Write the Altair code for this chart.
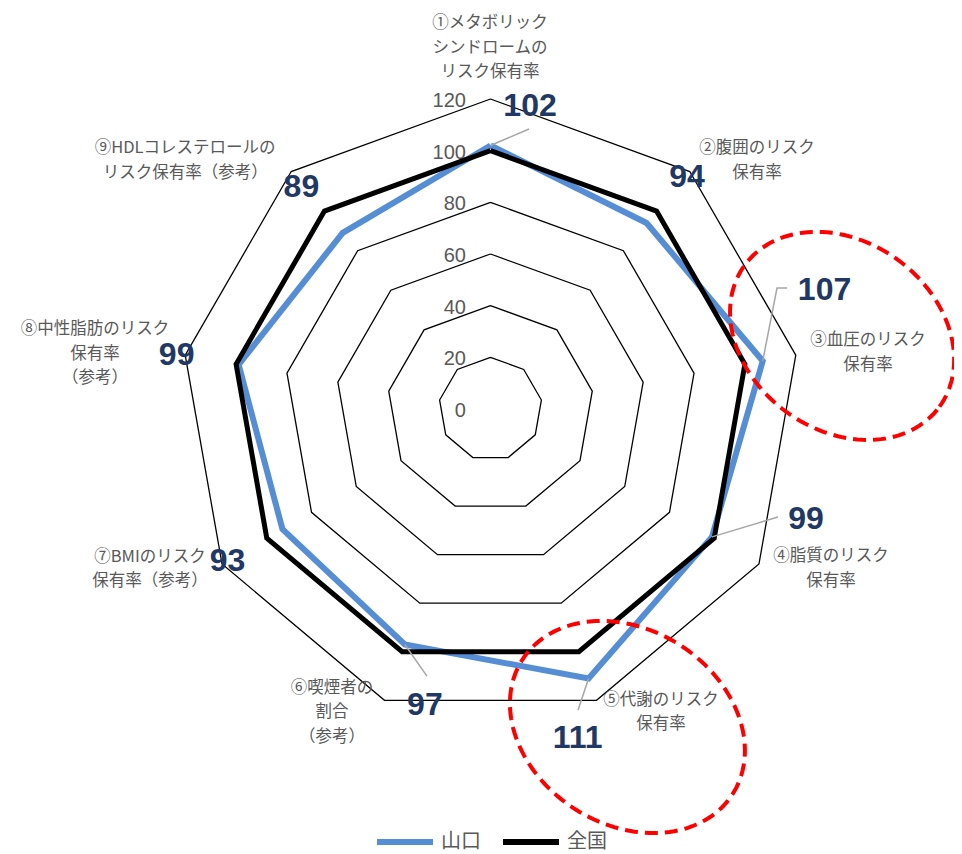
import altair as alt
import numpy as np
import pandas as pd

# ---------------- data ----------------
categories = [
    "①メタボリック\nシンドロームの\nリスク保有率",
    "②腹囲のリスク\n保有率",
    "③血圧のリスク\n保有率",
    "④脂質のリスク\n保有率",
    "⑤代謝のリスク\n保有率",
    "⑥喫煙者の\n割合\n（参考）",
    "⑦BMIのリスク\n保有率（参考）",
    "⑧中性脂肪のリスク\n保有率\n（参考）",
    "⑨HDLコレステロールの\nリスク保有率（参考）",
]
yamaguchi = [102, 94, 107, 99, 111, 97, 93, 99, 89]
national = [100, 100, 100, 100, 100, 100, 100, 100, 100]
series_names = ["山口", "全国"]
ring_values = [20, 40, 60, 80, 100, 120]
tick_values = [0, 20, 40, 60, 80, 100, 120]

# ---------------- layout (value units, centre = 0,0) ----------------
PX = 310 / 120.0          # pixels per value unit
LINE_H = 24.5             # category label line height (px)
cat_lx = [-0.2, 103.2, 146.1, 131.8, 66.0, -61.4, -131.8, -153.1, -118.2]
cat_ly = [139.9, 96.2, 21.9, -61.7, -117.3, -117.3, -61.9, 21.3, 96.2]
val_lx = [15.3, 76.1, 129.3, 122.1, 33.7, -25.4, -101.8, -121.5, -73.2]
val_ly = [117.3, 89.8, 46.1, -42.6, -127.5, -114.6, -59.0, 20.9, 86.1]
leader_idx = [0, 2, 3, 4, 5]
leader_pts = [
    [(14.9, 108.4)],
    [(110.9, 46.8), (114.8, 46.8)],
    [(111.3, -41.8)],
    [(33.9, -116.5)],
    [(-24.6, -103.4)],
]
tick_x = -9.5
ell_cx = [136.1, 53.0]
ell_cy = [28.3, -123.1]
ell_a = [46.6, 48.3]
ell_b = [36.5, 37.7]
ell_rot = [-36.0, -32.6]

N = len(categories)
ang = [2 * np.pi * i / N for i in range(N)]


def polar(v, i):
    return v * np.sin(ang[i]), v * np.cos(ang[i])


# grid rings
grid_rows = []
for r in ring_values:
    for k in range(N + 1):
        i = k % N
        x, y = polar(r, i)
        grid_rows.append({"ring": r, "ord": k, "x": x, "y": y})
grid_df = pd.DataFrame(grid_rows)


def series_df(name, vals):
    rows = []
    for k in range(N + 1):
        i = k % N
        x, y = polar(vals[i], i)
        rows.append({"series": name, "ord": k, "x": x, "y": y})
    return pd.DataFrame(rows)


yam_df = series_df(series_names[0], yamaguchi)
nat_df = series_df(series_names[1], national)

# labels (block centre -> first line centre)
n_lines = [c.count("\n") + 1 for c in categories]
cat_first_y = [cy + (n - 1) / 2 * LINE_H / PX for cy, n in zip(cat_ly, n_lines)]
cat_df = pd.DataFrame({"label": categories, "x": cat_lx, "y": cat_first_y})
val_df = pd.DataFrame({"label": [str(v) for v in yamaguchi], "x": val_lx, "y": val_ly})
tick_df = pd.DataFrame({"label": [str(t) for t in tick_values], "y": tick_values,
                        "x": [tick_x] * len(tick_values)})

# leader lines
lead_rows = []
for j, (ci, pts) in enumerate(zip(leader_idx, leader_pts)):
    x0, y0 = polar(yamaguchi[ci], ci)
    lead_rows.append({"id": j, "ord": 0, "x": x0, "y": y0})
    for m, (px, py) in enumerate(pts):
        lead_rows.append({"id": j, "ord": m + 1, "x": px, "y": py})
lead_df = pd.DataFrame(lead_rows)

# annotation ellipses
ell_rows = []
t = np.linspace(0, 2 * np.pi, 145)
for e in range(len(ell_cx)):
    phi = np.radians(ell_rot[e])
    ex = ell_cx[e] + ell_a[e] * np.cos(t) * np.cos(phi) - ell_b[e] * np.sin(t) * np.sin(phi)
    ey = ell_cy[e] + ell_a[e] * np.cos(t) * np.sin(phi) + ell_b[e] * np.sin(t) * np.cos(phi)
    for k in range(len(t)):
        ell_rows.append({"id": e, "ord": k, "x": ex[k], "y": ey[k]})
ell_df = pd.DataFrame(ell_rows)

# ---------------- scales ----------------
W, H = 946, 846
CX, CY = 482.5, 401.0
xs = alt.Scale(domain=[-CX / PX, (W - CX) / PX], nice=False, zero=False)
ys = alt.Scale(domain=[-(H - CY) / PX, CY / PX], nice=False, zero=False)
X = alt.X("x:Q", scale=xs, axis=None)
Y = alt.Y("y:Q", scale=ys, axis=None)
color_scale = alt.Scale(domain=series_names, range=["#558ED5", "#000000"])
color_legend = alt.Legend(
    title=None, orient="none", legendX=366, legendY=803, direction="horizontal",
    symbolType="stroke", symbolSize=3136, symbolStrokeWidth=6,
    labelFontSize=20, labelFont="Noto Sans CJK JP", labelColor="#595959",
    labelOffset=5, columnPadding=10, padding=0,
)

grid = alt.Chart(grid_df).mark_line(color="#000000", strokeWidth=1.3).encode(
    x=X, y=Y, detail="ring:N", order="ord:Q")

yam = alt.Chart(yam_df).mark_line(strokeWidth=6).encode(
    x=X, y=Y, order="ord:Q",
    color=alt.Color("series:N", scale=color_scale, legend=color_legend))
nat = alt.Chart(nat_df).mark_line(strokeWidth=5).encode(
    x=X, y=Y, order="ord:Q",
    color=alt.Color("series:N", scale=color_scale, legend=color_legend))

leaders = alt.Chart(lead_df).mark_line(color="#A6A6A6", strokeWidth=1.5).encode(
    x=X, y=Y, detail="id:N", order="ord:Q")

ticks = alt.Chart(tick_df).mark_text(
    align="right", baseline="middle", dy=2, fontSize=20,
    font="Liberation Sans", color="#595959").encode(x=X, y=Y, text="label:N")

cats = alt.Chart(cat_df).mark_text(
    align="center", baseline="middle", lineBreak="\n", lineHeight=LINE_H,
    fontSize=16.5, font="Noto Sans CJK JP", color="#595959").encode(
    x=X, y=Y, text="label:N")

vals = alt.Chart(val_df).mark_text(
    align="center", baseline="middle", fontSize=32, fontWeight="bold",
    font="Liberation Sans", color="#1F3864").encode(x=X, y=Y, text="label:N")

ellipses = alt.Chart(ell_df).mark_line(
    color="#FF0000", strokeWidth=4, strokeDash=[13, 7]).encode(
    x=X, y=Y, detail="id:N", order="ord:Q")

chart = alt.layer(grid, ticks, cats, yam, nat, leaders, vals, ellipses).properties(
    width=W, height=H, padding=0,
    autosize=alt.AutoSizeParams(type="none"),
).configure_view(stroke=None).resolve_scale(color="shared")

chart.save("out.html", embed_options={"renderer": "svg", "actions": False})
